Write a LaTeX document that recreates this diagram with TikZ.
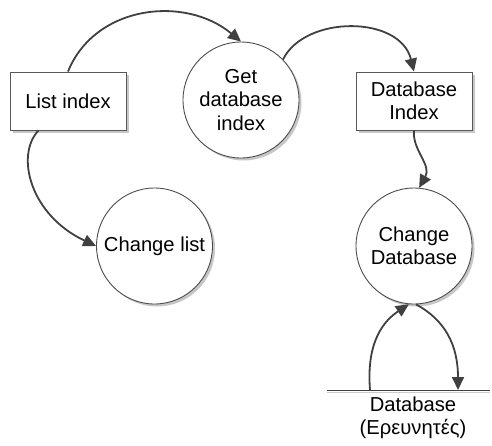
\documentclass[tikz,border=0pt]{standalone}
\usepackage{fontspec}
\setmainfont{Liberation Sans}
\usetikzlibrary{arrows.meta,shadows}
\begin{document}
\begin{tikzpicture}[x=1pt,y=1pt,
  font=\fontsize{20.2pt}{23.5pt}\selectfont,
  shd/.style={drop shadow={shadow xshift=2.5pt,shadow yshift=-2.5pt,fill=black!22,opacity=1}},
  proc/.style={circle, draw=black!70, line width=0.9pt, fill=white, minimum size=116pt, inner sep=0pt, align=center, shd},
  ent/.style={rectangle, draw=black!65, line width=0.9pt, fill=white, minimum width=116pt, minimum height=58pt, inner sep=0pt, align=center, shd},
  flow/.style={draw=black!75, line width=1.8pt, -{Triangle[length=13pt,width=12pt]}}]
\useasboundingbox (0,0) rectangle (492,-445);
\node[ent] (lst) at (68,-101){List index};
\node[proc] (getdb) at (241,-100){Get\\database\\index};
\node[ent] (dbidx) at (414,-101){Database\\Index};
\node[proc] (chlst) at (154.5,-246){Change list};
\node[proc] (chdb) at (414,-246){Change\\Database};
% data store
\coordinate (st0) at (327,-390);
\coordinate (st1) at (490,-390);
\coordinate (stin) at (370,-390);
\coordinate (stout) at (458,-390);
\draw[black!20, line width=1pt] ([yshift=-2pt]st0) -- ([yshift=-2pt]st1);
\draw[black!75, line width=1pt] (st0) -- (st1);
\node[align=center, inner sep=0pt] (store) at (413,-418){Database\\(Ερευνητές)};
% flows
\draw[flow] (lst.north) .. controls (95,-5) and (185,5) .. (getdb.north);
\draw[flow] (getdb.44) .. controls (305,-15) and (400,-15) .. (dbidx.north);
\draw[flow] (dbidx.south) .. controls (412,-150) and (432,-165) .. (chdb.85);
\draw[flow] ([xshift=29pt]lst.south west) .. controls (15,-155) and (30,-215) .. (chlst.west);
\draw[flow] (stin) .. controls (366,-340) and (385,-320) .. (chdb.-95);
\draw[flow] (chdb.-88) .. controls (445,-320) and (458,-345) .. (stout);
\end{tikzpicture}
\end{document}
